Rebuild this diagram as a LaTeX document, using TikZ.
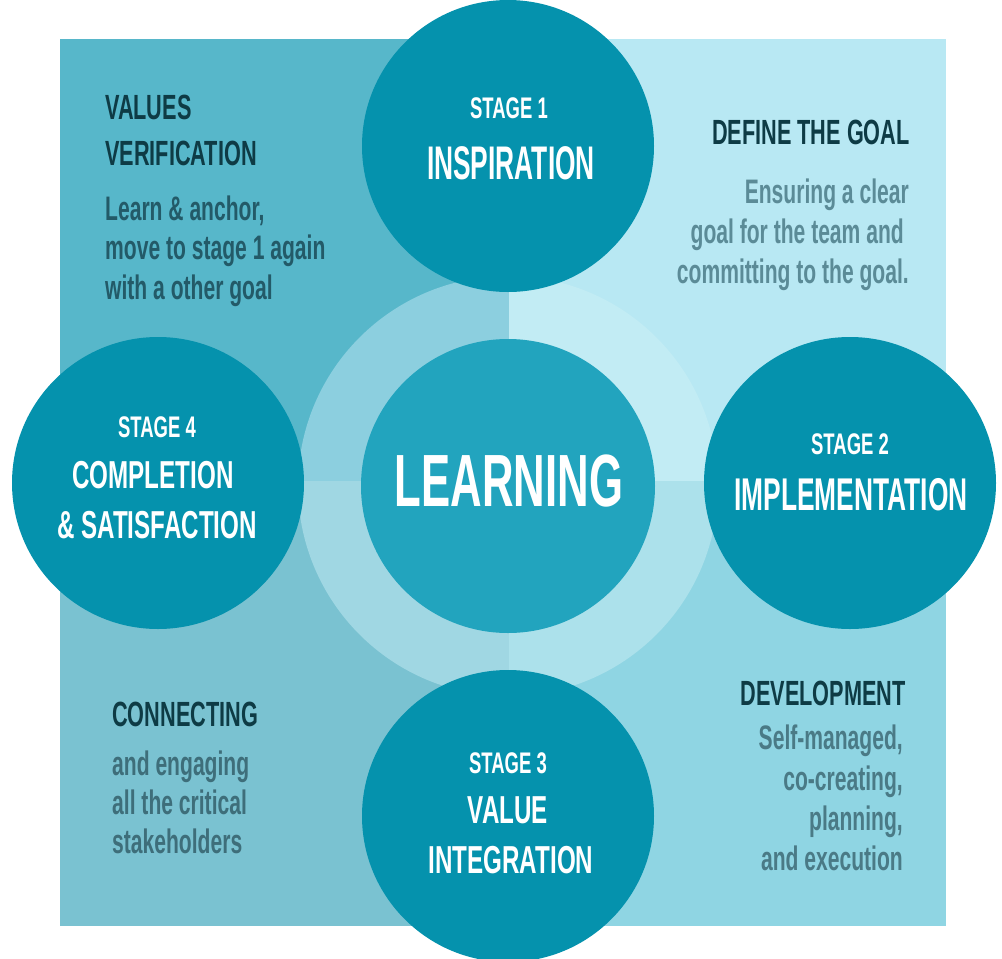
\documentclass[tikz,border=0pt]{standalone}
\usepackage{fontspec}
\setmainfont{Liberation Sans}[FakeStretch=0.62]
\definecolor{qtl}{HTML}{57B7CA}
\definecolor{qtr}{HTML}{B8E8F3}
\definecolor{qbl}{HTML}{7AC2D1}
\definecolor{qbr}{HTML}{8FD5E3}
\definecolor{rtl}{HTML}{8CCFDF}
\definecolor{rtr}{HTML}{C2ECF4}
\definecolor{rbl}{HTML}{A0D7E3}
\definecolor{rbr}{HTML}{ACE1EB}
\definecolor{stagec}{HTML}{0592AD}
\definecolor{centc}{HTML}{22A4BE}
\definecolor{headc}{HTML}{0E3B45}
\definecolor{bodytl}{HTML}{235A68}
\definecolor{bodytr}{HTML}{5B8B97}
\definecolor{bodybl}{HTML}{3E6E7A}
\definecolor{bodybr}{HTML}{4A7A86}
\begin{document}
\begin{tikzpicture}[x=1pt,y=-1pt,
  stagecirc/.style={circle,fill=stagec,draw=none,minimum size=292pt,inner sep=0pt},
  stagelbl/.style={inner sep=0pt,text=white,font=\bfseries\fontsize{29.8}{30}\selectfont},
  bigname/.style={inner sep=0pt,text=white,font=\bfseries\fontsize{42.5}{44}\selectfont},
  midname/.style={inner sep=0pt,text=white,font=\bfseries\fontsize{39}{40}\selectfont},
  headtxt/.style={inner sep=0pt,text=headc,font=\bfseries\fontsize{35}{36}\selectfont},
  bodytxt/.style={inner sep=0pt,font=\bfseries\fontsize{34}{36}\selectfont}]
\clip (0,0) rectangle (1002,959);
% quadrants
\fill[qtl] (60,39) rectangle (509,481);
\fill[qtr] (509,39) rectangle (946,481);
\fill[qbl] (60,481) rectangle (509,926);
\fill[qbr] (509,481) rectangle (946,926);
% ring
\begin{scope}\clip (60,39) rectangle (509,481); \fill[rtl] (508,486) circle (210); \end{scope}
\begin{scope}\clip (509,39) rectangle (946,481); \fill[rtr] (508,486) circle (210); \end{scope}
\begin{scope}\clip (60,481) rectangle (509,926); \fill[rbl] (508,486) circle (210); \end{scope}
\begin{scope}\clip (509,481) rectangle (946,926); \fill[rbr] (508,486) circle (210); \end{scope}
% circles
\node[circle,fill=centc,draw=none,minimum size=294pt,inner sep=0pt] (learn) at (508,486) {};
\node[stagecirc] (s1) at (508,146) {};
\node[stagecirc] (s2) at (850,483) {};
\node[stagecirc] (s3) at (508,816) {};
\node[stagecirc] (s4) at (158,483) {};
% centre text
\node[inner sep=0pt,text=white,font=\bfseries\fontsize{70.5}{72}\selectfont,anchor=base] (learntxt) at (509,506) {\scalebox{1}[1.05]{LEARNING}};
% stage texts
\node[stagelbl,anchor=base] (s1a) at (509,118) {STAGE 1};
\node[bigname,anchor=base] (s1b) at (511,179) {\scalebox{1}[1.11]{INSPIRATION}};
\node[stagelbl,anchor=base] (s2a) at (850,454) {STAGE 2};
\node[bigname,anchor=base] (s2b) at (851,510) {\scalebox{1}[1.08]{IMPLEMENTATION}};
\node[stagelbl,anchor=base] (s3a) at (508,773) {STAGE 3};
\node[midname,anchor=base] (s3b) at (508,823) {VALUE};
\node[midname,anchor=base] (s3c) at (511,873) {INTEGRATION};
\node[stagelbl,anchor=base] (s4a) at (157,437) {STAGE 4};
\node[midname,anchor=base] (s4b) at (153,488) {COMPLETION};
\node[midname,anchor=base] (s4c) at (157,538) {\& SATISFACTION};
% top-left
\node[headtxt,anchor=base west] (tlh1) at (105,119) {VALUES};
\node[headtxt,anchor=base west] (tlh2) at (105,165) {VERIFICATION};
\node[bodytxt,text=bodytl,anchor=base west] (tlb1) at (105,220) {Learn \& anchor,};
\node[bodytxt,text=bodytl,anchor=base west] (tlb2) at (105,259) {move to stage 1 again};
\node[bodytxt,text=bodytl,anchor=base west] (tlb3) at (105,299) {with a other goal};
% top-right
\node[headtxt,anchor=base east] (trh1) at (910,144) {DEFINE THE GOAL};
\node[bodytxt,text=bodytr,anchor=base east] (trb1) at (909,203) {Ensuring a clear};
\node[bodytxt,text=bodytr,anchor=base east] (trb2) at (904,243) {goal for the team and};
\node[bodytxt,text=bodytr,anchor=base east] (trb3) at (909,283) {committing to the goal.};
% bottom-left
\node[headtxt,anchor=base west] (blh1) at (112,726) {CONNECTING};
\node[bodytxt,text=bodybl,anchor=base west] (blb1) at (112,775) {and engaging};
\node[bodytxt,text=bodybl,anchor=base west] (blb2) at (112,814) {all the critical};
\node[bodytxt,text=bodybl,anchor=base west] (blb3) at (112,853) {stakeholders};
% bottom-right
\node[headtxt,anchor=base east] (brh1) at (906,705) {DEVELOPMENT};
\node[bodytxt,text=bodybr,anchor=base east] (brb1) at (903,749) {Self-managed,};
\node[bodytxt,text=bodybr,anchor=base east] (brb2) at (903,790) {co-creating,};
\node[bodytxt,text=bodybr,anchor=base east] (brb3) at (903,830) {planning,};
\node[bodytxt,text=bodybr,anchor=base east] (brb4) at (903,870) {and execution};
\end{tikzpicture}
\end{document}
